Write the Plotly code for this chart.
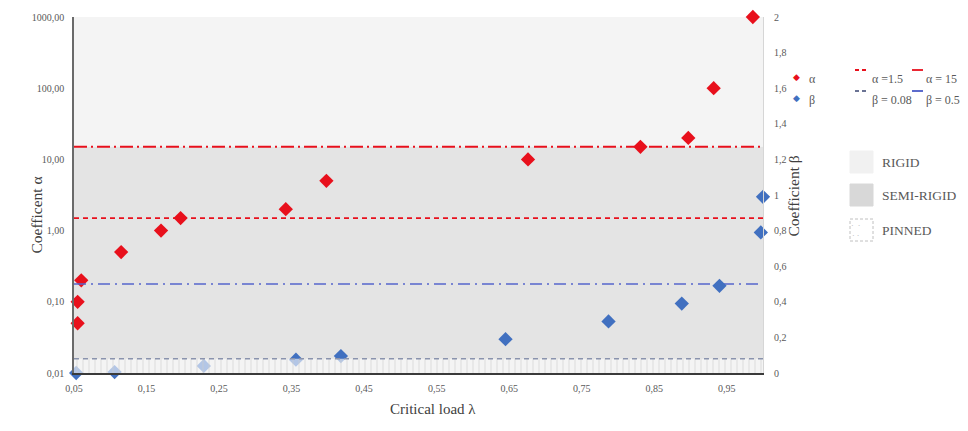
import plotly.graph_objects as go

# ---------------- data ----------------
alpha_x = [0.055, 0.055, 0.06, 0.115, 0.17, 0.197, 0.342, 0.398, 0.676, 0.831, 0.897, 0.932, 0.986]
alpha_y = [0.05, 0.10, 0.20, 0.50, 1.0, 1.5, 2.0, 5.0, 10.0, 15.0, 20.0, 100.0, 1000.0]

beta_x = [0.053, 0.106, 0.229, 0.356, 0.418, 0.645, 0.787, 0.888, 0.94, 0.997, 1.0]
beta_y = [0.0, 0.005, 0.04, 0.075, 0.095, 0.19, 0.29, 0.39, 0.49, 0.79, 0.99]

alpha_lim_low, alpha_lim_high = 1.5, 15.0
beta_lim_low, beta_lim_high = 0.08, 0.5

x_range = [0.05, 1.0]
x_ticks = [0.05, 0.15, 0.25, 0.35, 0.45, 0.55, 0.65, 0.75, 0.85, 0.95]
x_labels = ["0,05", "0,15", "0,25", "0,35", "0,45", "0,55", "0,65", "0,75", "0,85", "0,95"]
ya_ticks = [0.01, 0.1, 1, 10, 100, 1000]
ya_labels = ["0,01", "0,10", "1,00", "10,00", "100,00", "1000,00"]
yb_ticks = [0, 0.2, 0.4, 0.6, 0.8, 1.0, 1.2, 1.4, 1.6, 1.8, 2.0]
yb_labels = ["0", "0,2", "0,4", "0,6", "0,8", "1", "1,2", "1,4", "1,6", "1,8", "2"]

RED = "#e8101c"
BLUE = "#4170c0"
FONT = "Liberation Serif, Times New Roman, serif"
TXT = "#595959"

# ---------------- geometry (page has an 8px body margin) ----------------
OFF = 8
PL, PR, PT, PB = 74, 763, 17, 373      # plot area in page pixels
W, H = 968 - OFF, 431 - OFF
L, T = PL - OFF, PT - OFF
R, B = 968 - PR, 431 - PB
pw, ph = PR - PL, PB - PT


def px(x):
    return (x - PL) / pw


def py(y):
    return (PB - y) / ph


fig = go.Figure()

# regions (rigid / semi-rigid) on the alpha axis
fig.add_trace(go.Scatter(
    x=[x_range[0], x_range[1], x_range[1], x_range[0], x_range[0]],
    y=[alpha_lim_high, alpha_lim_high, ya_ticks[-1], ya_ticks[-1], alpha_lim_high],
    fill="toself", fillcolor="#f4f4f4", mode="none", hoverinfo="skip",
    showlegend=False, yaxis="y"))
fig.add_trace(go.Scatter(
    x=[x_range[0], x_range[1], x_range[1], x_range[0], x_range[0]],
    y=[ya_ticks[0], ya_ticks[0], alpha_lim_high, alpha_lim_high, ya_ticks[0]],
    fill="toself", fillcolor="#e4e4e4", mode="none", hoverinfo="skip",
    showlegend=False, yaxis="y"))

# alpha threshold lines
fig.add_trace(go.Scatter(x=x_range, y=[alpha_lim_low] * 2, mode="lines",
                         line=dict(color=RED, width=1.8, dash="5px,4px"),
                         hoverinfo="skip", showlegend=False, yaxis="y"))
fig.add_trace(go.Scatter(x=x_range, y=[alpha_lim_high] * 2, mode="lines",
                         line=dict(color=RED, width=2, dash="13px,4px,2px,4px"),
                         hoverinfo="skip", showlegend=False, yaxis="y"))

# alpha points
fig.add_trace(go.Scatter(x=alpha_x, y=alpha_y, mode="markers", name="α",
                         marker=dict(symbol="diamond", size=11, color=RED),
                         cliponaxis=False, showlegend=False, yaxis="y"))

# beta threshold lines
fig.add_trace(go.Scatter(x=x_range, y=[beta_lim_high] * 2, mode="lines",
                         line=dict(color="#5566cc", width=1.6, dash="12px,5px,2px,5px"),
                         hoverinfo="skip", showlegend=False, yaxis="y2"))

# beta points
fig.add_trace(go.Scatter(x=beta_x, y=beta_y, mode="markers", name="β",
                         marker=dict(symbol="diamond", size=11, color=BLUE),
                         cliponaxis=False, showlegend=False, yaxis="y2"))

# pinned region (pattern overlay)
fig.add_trace(go.Scatter(
    x=[x_range[0], x_range[1], x_range[1], x_range[0], x_range[0]],
    y=[0, 0, beta_lim_low, beta_lim_low, 0],
    fill="toself", fillcolor="rgba(255,255,255,0.6)", mode="none",
    fillpattern=dict(shape="|", fgcolor="#cccccc", fgopacity=0.7, size=6,
                     solidity=0.15, fillmode="overlay"),
    hoverinfo="skip", showlegend=False, yaxis="y2"))
fig.add_trace(go.Scatter(x=x_range, y=[beta_lim_low] * 2, mode="lines",
                         line=dict(color="#8a93ad", width=1.5, dash="5px,4px"),
                         hoverinfo="skip", showlegend=False, yaxis="y2"))

tickfont = dict(family=FONT, size=10, color=TXT)
fig.update_layout(
    width=W, height=H,
    margin=dict(l=L, r=R, t=T, b=B, autoexpand=False),
    paper_bgcolor="white", plot_bgcolor="white",
    showlegend=False,
    font=dict(family=FONT, color=TXT),
    xaxis=dict(range=x_range, tickvals=x_ticks, ticktext=x_labels,
               showgrid=False, zeroline=False, showline=True,
               linecolor="#3a3a3a", linewidth=1.5, ticks="",
               ticklabelstandoff=5, tickfont=tickfont),
    yaxis=dict(type="log", range=[-2, 3], tickvals=ya_ticks, ticktext=ya_labels,
               showgrid=False, zeroline=False, showline=True,
               linecolor="#6a6a6a", linewidth=1.5, ticks="",
               ticklabelstandoff=6, tickfont=tickfont),
    yaxis2=dict(overlaying="y", side="right", range=[0, 2],
                tickvals=yb_ticks, ticktext=yb_labels,
                showgrid=False, zeroline=False, showline=True,
                linecolor="#d6d6d6", linewidth=1, ticks="",
                ticklabelstandoff=8, tickfont=tickfont),
)

ann = []
shapes = []
P = dict(xref="paper", yref="paper", showarrow=False)
# axis titles
ann.append(dict(text="Coefficent α", x=px(25), y=py(215), textangle=-90,
                font=dict(family=FONT, size=15.5, color="#404040"), **P))
ann.append(dict(text="Coefficient β", x=px(803), y=py(196), textangle=-90,
                font=dict(family=FONT, size=15.5, color="#404040"), **P))
ann.append(dict(text="Critical load λ", x=px(433), y=py(419),
                font=dict(family=FONT, size=15, color="#404040"), **P))

# legend: markers
for yy, col, lab in [(70, RED, "α"), (91, BLUE, "β")]:
    ann.append(dict(text="◆", x=px(802), y=py(yy),
                    font=dict(family="DejaVu Sans", size=9, color=col), **P))
    ann.append(dict(text=lab, x=px(807), y=py(yy), xanchor="left",
                    font=dict(family=FONT, size=12, color=TXT), **P))

# legend: lines
leg_lines = [
    (70, RED, "4px,3px", f"α ={alpha_lim_low:g}", RED, "solid", f"α = {alpha_lim_high:g}"),
    (91, "#6a7394", "4px,3px", f"β = {beta_lim_low:g}", "#4a5cc8", "solid", f"β = {beta_lim_high:g}"),
]
for yy, c1, d1, t1, c2, d2, t2 in leg_lines:
    shapes.append(dict(type="line", xref="paper", yref="paper",
                       x0=px(855), x1=px(869), y0=py(yy), y1=py(yy),
                       line=dict(color=c1, width=1.8, dash=d1)))
    ann.append(dict(text=t1, x=px(870), y=py(yy), xanchor="left",
                    font=dict(family=FONT, size=12, color=TXT), **P))
    shapes.append(dict(type="line", xref="paper", yref="paper",
                       x0=px(912), x1=px(923), y0=py(yy), y1=py(yy),
                       line=dict(color=c2, width=1.8, dash=d2)))
    ann.append(dict(text=t2, x=px(924), y=py(yy), xanchor="left",
                    font=dict(family=FONT, size=12, color=TXT), **P))

# legend: regions
regions = [("RIGID", 162, "#f1f1f1", None), ("SEMI-RIGID", 195, "#d8d8d8", None),
           ("PINNED", 230, "#ffffff", "#c0c0c0")]
for lab, yy, fc, bc in regions:
    shapes.append(dict(type="rect", xref="paper", yref="paper",
                       x0=px(850), x1=px(873), y0=py(yy - 11), y1=py(yy + 11),
                       fillcolor=fc,
                       line=dict(color=bc if bc else fc, width=1, dash="3px,2px" if bc else "solid")))
    ann.append(dict(text=lab, x=px(880), y=py(yy), xanchor="left",
                    font=dict(family=FONT, size=13.5, color=TXT), **P))
ann.append(dict(text="·  ·<br>· ·", x=px(861.5), y=py(230),
                font=dict(family=FONT, size=8, color="#b0b0b0"), **P))

fig.update_layout(annotations=ann, shapes=shapes)
fig.write_html("out.html")
